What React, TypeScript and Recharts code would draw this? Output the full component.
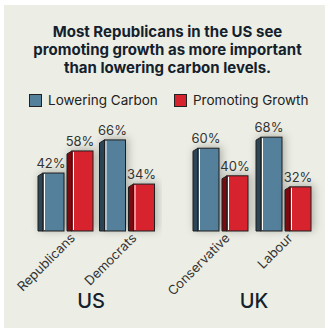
import { BarChart, Bar, XAxis, YAxis, LabelList } from "recharts";

const US_PARTIES = ["Republicans", "Democrats"];
const US_CARBON = [42, 66];
const US_GROWTH = [58, 34];

const UK_PARTIES = ["Conservative", "Labour"];
const UK_CARBON = [60, 68];
const UK_GROWTH = [40, 32];

const SERIES_LABELS = ["Lowering Carbon", "Promoting Growth"];

const FONT = "Inter, 'Noto Sans', sans-serif";
const BLUE = "#55809c";
const BLUE_SIDE = "#2c4657";
const RED = "#d7232d";
const RED_SIDE = "#7a0a10";
const INK = "#14212c";

const usData = US_PARTIES.map((p, i) => ({ party: p, carbon: US_CARBON[i], growth: US_GROWTH[i] }));
const ukData = UK_PARTIES.map((p, i) => ({ party: p, carbon: UK_CARBON[i], growth: UK_GROWTH[i] }));

function Bar3D(props: any) {
  const { x, y, width, height, fill, side } = props;
  if (!height || height <= 0) return null;
  const d = 5;
  const base = y + height;
  return (
    <g>
      <polygon
        points={`${x},${y + 3} ${x + d},${y} ${x + d},${base} ${x},${base}`}
        fill={side}
        stroke="#1e1e1e"
        strokeWidth={1}
      />
      <rect x={x + d} y={y} width={width - d} height={height} fill={fill} stroke="#1e1e1e" strokeWidth={1} />
      <line x1={x + d + 1.5} x2={x + d + 1.5} y1={y + 1} y2={base - 1} stroke="#ffffff" strokeWidth={1} />
    </g>
  );
}

function PartyTick({ x, y, payload }: any) {
  const ax = x + 10;
  const ay = y + 8;
  return (
    <text
      x={ax}
      y={ay}
      transform={`rotate(-45 ${ax} ${ay})`}
      textAnchor="end"
      fontSize={13}
      fill="#333"
      fontFamily={FONT}
    >
      {payload.value}
    </text>
  );
}

function GroupChart({ data, left, width, margin }: { data: any[]; left: number; width: number; margin: any }) {
  return (
    <div style={{ position: "absolute", left, top: 80 }}>
      <BarChart width={width} height={248} data={data} margin={margin} barSize={26} barGap={3}>
        <XAxis
          dataKey="party"
          axisLine={false}
          tickLine={false}
          tickSize={0}
          tickMargin={0}
          height={60}
          interval={0}
          tick={<PartyTick />}
        />
        <YAxis hide domain={[0, 100]} />
        <Bar dataKey="carbon" fill={BLUE} isAnimationActive={false} shape={(p: any) => <Bar3D {...p} fill={BLUE} side={BLUE_SIDE} />}>
          <LabelList dataKey="carbon" position="top" offset={5} formatter={(v: any) => `${v}%`} fill="#333" fontSize={13} fontFamily={FONT} />
        </Bar>
        <Bar dataKey="growth" fill={RED} isAnimationActive={false} shape={(p: any) => <Bar3D {...p} fill={RED} side={RED_SIDE} />}>
          <LabelList dataKey="growth" position="top" offset={5} formatter={(v: any) => `${v}%`} fill="#333" fontSize={13} fontFamily={FONT} />
        </Bar>
      </BarChart>
    </div>
  );
}

export default function App() {
  return (
    <div style={{ position: "relative", width: 325, height: 328, background: "#fff", overflow: "hidden", fontFamily: FONT }}>
      <style>{`body{margin:0} .recharts-bar-rectangles{filter:drop-shadow(2px -1px 4px rgba(0,0,0,0.28))}`}</style>
      <div style={{ position: "absolute", left: 4, top: 5, width: 321, height: 323, background: "#eceee5" }} />
      <div
        style={{
          position: "absolute",
          left: 10,
          top: 23,
          width: 315,
          textAlign: "center",
          fontSize: 15,
          lineHeight: "18px",
          fontWeight: 700,
          color: INK,
        }}
      >
        Most Republicans in the US see
        <br />
        promoting growth as more important
        <br />
        than lowering carbon levels.
      </div>
      {SERIES_LABELS.map((label, i) => (
        <div
          key={label}
          style={{ position: "absolute", left: i === 0 ? 29 : 174, top: 92, display: "flex", alignItems: "center", color: "#222", fontSize: 13.5 }}
        >
          <span
            style={{
              display: "inline-block",
              width: 11,
              height: 11,
              background: i === 0 ? BLUE : RED,
              border: "1px solid #222",
              marginRight: 6,
            }}
          />
          <span>{label}</span>
        </div>
      ))}
      <GroupChart data={usData} left={0} width={162} margin={{ top: 13, right: 4, bottom: 37, left: 35 }} />
      <GroupChart data={ukData} left={162} width={163} margin={{ top: 13, right: 10, bottom: 37, left: 27 }} />
      <div style={{ position: "absolute", left: 61, width: 60, top: 289, textAlign: "center", fontSize: 20, fontWeight: 500, color: INK }}>US</div>
      <div style={{ position: "absolute", left: 224, width: 60, top: 289, textAlign: "center", fontSize: 20, fontWeight: 500, color: INK }}>UK</div>
    </div>
  );
}
